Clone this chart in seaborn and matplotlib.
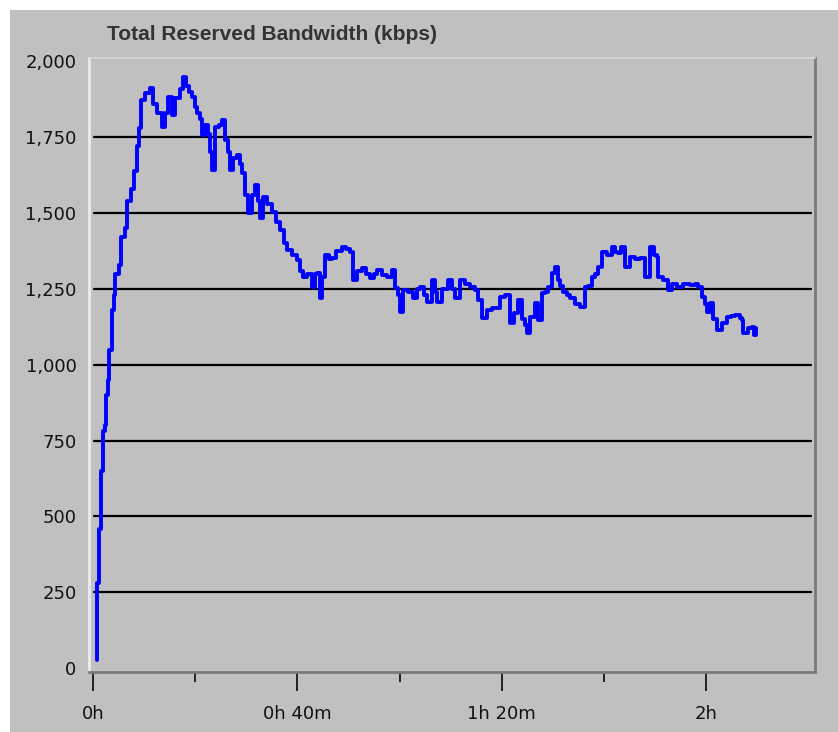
import matplotlib
matplotlib.use("Agg")
import matplotlib.pyplot as plt
from matplotlib.patches import Rectangle
from matplotlib.ticker import FixedLocator, FuncFormatter
import seaborn as sns
import pandas as pd

# elapsed time (minutes) and reserved bandwidth (kbps)
minutes = [
    0.8, 0.8, 1.2, 1.5, 1.6, 2.0, 2.3, 2.5, 3.0, 3.1, 3.7, 4.2, 4.4, 5.1, 5.5,
    6.3, 6.6, 7.4, 8.0, 8.6, 9.0, 9.4, 10.2, 11.15, 11.7, 12.5, 13.5, 14.1,
    14.7, 15.5, 16.0, 17.0, 17.6, 18.2, 18.8, 19.4, 20.0, 20.4, 20.9, 21.3,
    21.9, 22.5, 22.9, 23.3, 23.9, 24.7, 25.2, 25.8, 26.4, 26.8, 27.4, 28.2,
    28.8, 29.2, 29.7, 30.3, 31.1, 31.7, 32.3, 32.7, 33.3, 34.1, 35.0, 35.8,
    36.6, 37.4, 38.0, 38.9, 39.9, 40.5, 41.1, 41.9, 42.9, 43.4, 43.8, 44.4,
    44.8, 45.4, 46.2, 46.8, 47.6, 48.7, 49.5, 50.3, 50.9, 51.7, 52.6, 53.4,
    54.2, 55.0, 55.6, 56.6, 57.5, 58.5, 59.1, 59.7, 60.1, 60.7, 61.6, 62.6,
    63.4, 64.0, 64.8, 65.4, 66.3, 66.9, 67.3, 68.3, 69.5, 70.3, 70.8, 71.8,
    72.8, 73.8, 74.8, 75.3, 76.1, 77.1, 78.1, 79.1, 79.6, 80.6, 81.2, 81.6,
    82.4, 83.2, 84.0, 84.5, 84.9, 85.5, 86.5, 87.1, 87.9, 88.5, 89.0, 89.8,
    90.4, 91.0, 91.4, 92.0, 92.8, 93.3, 94.3, 95.3, 96.3, 96.9, 97.7, 98.2,
    98.8, 99.6, 100.6, 101.6, 102.2, 102.7, 103.3, 104.1, 105.1, 106.1, 107.0,
    108.0, 109.0, 109.7, 110.4, 110.6, 111.5, 112.5, 113.3, 114.3, 115.5,
    116.8, 117.8, 118.4, 119.2, 119.8, 120.2, 120.7, 121.3, 122.1, 123.1,
    124.1, 124.9, 125.6, 126.6, 127.0, 127.2, 128.2, 129.0, 129.4, 129.7,
]
kbps = [
    25, 280, 460, 480, 650, 780, 800, 900, 950, 1050, 1180, 1230, 1300, 1330,
    1420, 1450, 1540, 1580, 1640, 1720, 1780, 1873, 1895, 1912, 1860, 1830,
    1784, 1830, 1883, 1823, 1880, 1910, 1948, 1920, 1900, 1883, 1850, 1830,
    1810, 1757, 1790, 1760, 1700, 1642, 1784, 1790, 1807, 1741, 1700, 1642,
    1680, 1691, 1660, 1632, 1560, 1500, 1560, 1593, 1540, 1484, 1553, 1530,
    1503, 1470, 1444, 1400, 1378, 1360, 1345, 1310, 1289, 1300, 1256, 1300,
    1302, 1220, 1290, 1362, 1350, 1352, 1375, 1388, 1380, 1372, 1279, 1310,
    1319, 1300, 1286, 1300, 1312, 1295, 1289, 1312, 1253, 1230, 1174, 1246,
    1240, 1220, 1250, 1256, 1230, 1207, 1279, 1240, 1207, 1250, 1279, 1250,
    1220, 1279, 1265, 1256, 1246, 1213, 1154, 1180, 1187, 1187, 1223, 1230,
    1230, 1137, 1170, 1213, 1150, 1130, 1104, 1157, 1203, 1147, 1236, 1240,
    1256, 1302, 1322, 1279, 1260, 1240, 1230, 1220, 1200, 1190, 1256, 1260,
    1289, 1300, 1322, 1372, 1360, 1388, 1370, 1368, 1388, 1322, 1355, 1350,
    1352, 1289, 1388, 1360, 1355, 1289, 1279, 1246, 1265, 1256, 1265, 1263,
    1265, 1256, 1223, 1200, 1174, 1203, 1150, 1114, 1137, 1157, 1160, 1164,
    1155, 1147, 1104, 1121, 1124, 1098, 1120,
]

y_ticks = [0, 250, 500, 750, 1000, 1250, 1500, 1750, 2000]
grid_levels = [250, 500, 750, 1000, 1250, 1500, 1750]
x_major = [0, 40, 80, 120]
x_minor = [20, 60, 100]
x_labels = ["0h", "0h 40m", "1h 20m", "2h"]

df = pd.DataFrame({"minutes": minutes, "kbps": kbps})

bg = "#c0c0c0"
sns.set_style("white")
plt.rcParams["font.family"] = ["DejaVu Sans"]

fig = plt.figure(figsize=(8.38, 7.32), dpi=100, facecolor="white")
fig.add_artist(Rectangle((10 / 838, 0), 1, 1 - 10 / 732, transform=fig.transFigure,
                         facecolor=bg, edgecolor="none", zorder=-1))

ax = fig.add_axes([89 / 838, 1 - 672 / 732, (815 - 89) / 838, (672 - 58) / 732])
ax.set_facecolor(bg)

for lvl in grid_levels:
    ax.axhline(lvl, xmin=0.007, xmax=0.995, color="black", lw=1.6, zorder=1)

sns.lineplot(data=df, x="minutes", y="kbps", estimator=None, sort=False,
             drawstyle="steps-post", color="#0000ff", lw=2.8, ax=ax, zorder=3)

ax.set_xlim(-0.78, 141.3)
ax.set_ylim(-13, 2011)
ax.set_xlabel("")
ax.set_ylabel("")

ax.set_yticks(y_ticks)
ax.yaxis.set_major_formatter(FuncFormatter(lambda v, p: f"{int(v):,}"))
ax.tick_params(axis="y", left=False, length=0, pad=9, labelsize=13,
               labelcolor="#111111")

ax.xaxis.set_major_locator(FixedLocator(x_major))
ax.xaxis.set_minor_locator(FixedLocator(x_minor))
ax.set_xticklabels(x_labels)
ax.tick_params(axis="x", which="both", bottom=True, top=False)
ax.tick_params(axis="x", which="major", length=14, width=1.4, color="#222222",
               pad=10, labelsize=13, labelcolor="#111111", direction="out")
ax.tick_params(axis="x", which="minor", length=7, width=1.4, color="#222222",
               direction="out")

for side, col, w in [("left", "#ececec", 2), ("top", "#d8d8d8", 1.2),
                     ("right", "#7a7a7a", 2), ("bottom", "#7a7a7a", 2)]:
    ax.spines[side].set_visible(True)
    ax.spines[side].set_color(col)
    ax.spines[side].set_linewidth(w)

fig.text(107 / 838, 1 - 35 / 732, "Total Reserved Bandwidth (kbps)",
         ha="left", va="center", fontsize=15, fontweight="bold",
         color="#333333", family=["Liberation Sans", "DejaVu Sans"])

fig.savefig("out.png", dpi=100, facecolor=fig.get_facecolor())
